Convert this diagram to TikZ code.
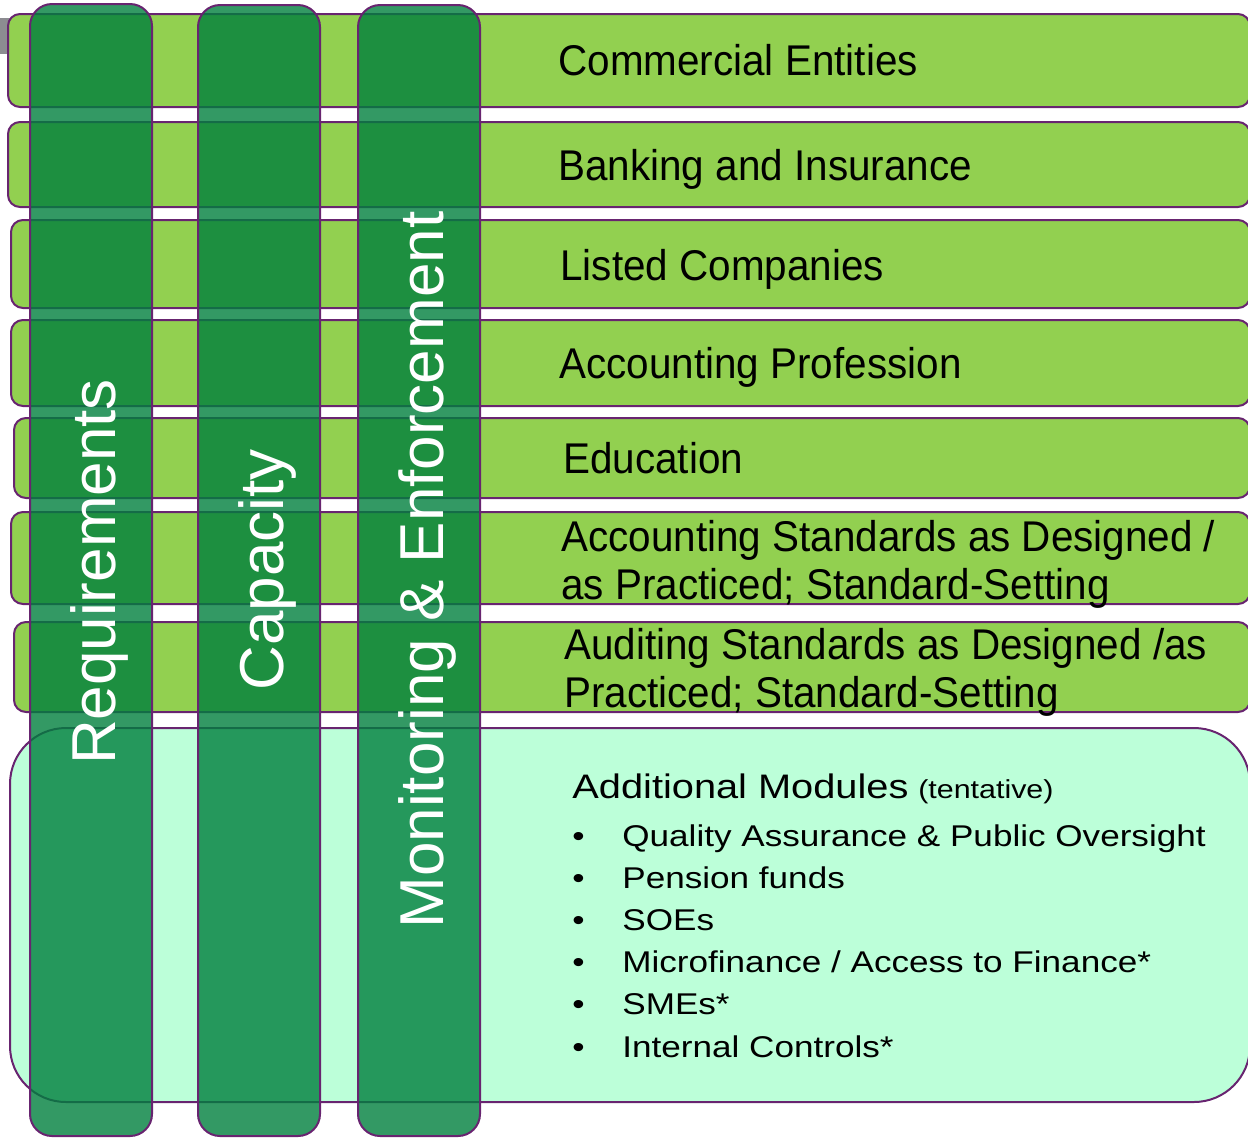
\documentclass[tikz,border=0pt]{standalone}
\usepackage{fontspec}
\setmainfont{Liberation Sans}
\newfontfamily\barfont[FakeStretch=0.94]{Liberation Sans}
\newfontfamily\modfont[FakeStretch=1.17]{Liberation Sans}

\definecolor{barGreen}{RGB}{146,208,80}
\definecolor{colGreen}{RGB}{0,127,61}
\definecolor{modMint}{RGB}{188,255,217}
\definecolor{edgePurple}{RGB}{104,36,112}
\definecolor{tabGray}{RGB}{140,140,145}

\tikzset{
    bar/.style={draw=edgePurple, line width=1pt, fill=barGreen, rounded corners=6pt},
    modbox/.style={draw=edgePurple, line width=1pt, fill=modMint, rounded corners=28pt},
    column/.style={draw=edgePurple, line width=1pt, fill=colGreen, fill opacity=0.8, rounded corners=11pt},
    bartext/.style={anchor=base west, inner sep=0pt, align=left, font=\barfont\fontsize{21.5}{24}\selectfont},
    coltext/.style={anchor=base, inner sep=0pt, rotate=90, text=white, font=\fontsize{31}{36}\selectfont},
    modtext/.style={anchor=base west, inner sep=0pt, align=left, font=\modfont\fontsize{15}{21.1}\selectfont}
}

\begin{document}
\begin{tikzpicture}[x=0.5pt, y=-0.5pt]

        \useasboundingbox (0,0) rectangle (1248,1137);
        \clip (0,0) rectangle (1248,1137);

        % Small tab behind the first bar
        \fill[tabGray] (0,18) rectangle (12,54);

        % Horizontal bars
        \draw[bar] (8,14) rectangle (1250,107);
        \draw[bar] (8,122) rectangle (1250,207);
        \draw[bar] (11,220) rectangle (1250,308);
        \draw[bar] (11,320) rectangle (1250,406);
        \draw[bar] (14,418) rectangle (1250,498);
        \draw[bar] (11,512) rectangle (1250,604);
        \draw[bar] (14,622) rectangle (1250,712);
        \draw[modbox] (10,728) rectangle (1250,1102);

        % Bar labels (multi-line nodes sit on their last line)
        \node[bartext] (commercial) at (558,75) {Commercial Entities};
        \node[bartext] (banking) at (558,180) {Banking and Insurance};
        \node[bartext] (listed) at (560,280) {Listed Companies};
        \node[bartext] (profession) at (559,378) {Accounting Profession};
        \node[bartext] (education) at (563,473) {Education};
        \node[bartext] (accstd) at (561,599) {Accounting Standards as Designed /\\as Practiced; Standard-Setting};
        \node[bartext] (audstd) at (564,707) {Auditing Standards as Designed /as\\Practiced; Standard-Setting};

        % Additional modules
        \node[modtext] (modules) at (572,1057) {{\fontsize{17}{21}\selectfont Additional Modules} {\fontsize{13}{16}\selectfont (tentative)}\\[2.9pt]
            \makebox[25pt][l]{\textbullet}Quality Assurance \& Public Oversight\\
            \makebox[25pt][l]{\textbullet}Pension funds\\
            \makebox[25pt][l]{\textbullet}SOEs\\
            \makebox[25pt][l]{\textbullet}Microfinance / Access to Finance*\\
            \makebox[25pt][l]{\textbullet}SMEs*\\
            \makebox[25pt][l]{\textbullet}Internal Controls*};

        % Vertical columns
        \draw[column] (30,4) rectangle (152,1136);
        \draw[column] (198,5) rectangle (320,1136);
        \draw[column] (358,5) rectangle (480,1136);

        \node[coltext] (requirements) at (115,572) {Requirements};
        \node[coltext] (capacity) at (283,570) {Capacity};
        \node[coltext] (monitoring) at (443,570) {Monitoring \& Enforcement};

\end{tikzpicture}
\end{document}
